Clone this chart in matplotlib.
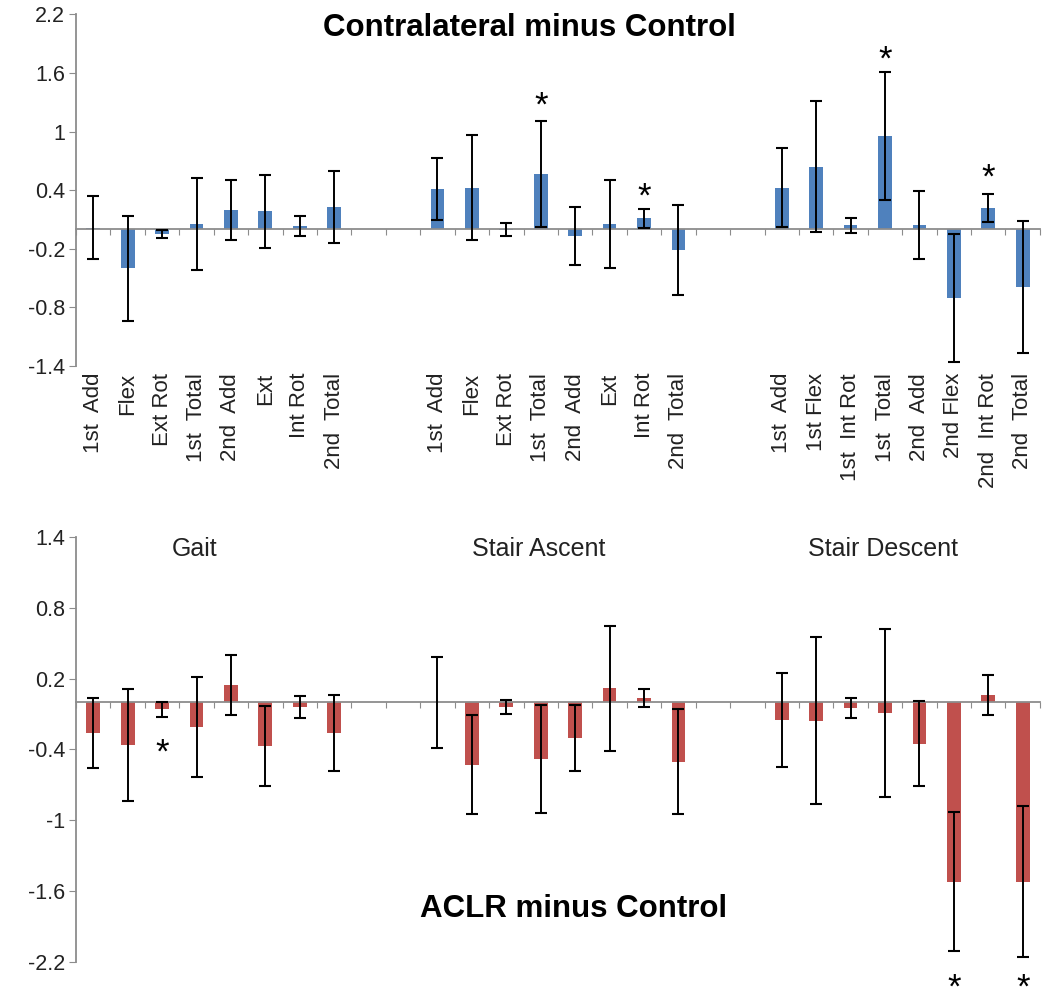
import numpy as np
import matplotlib.pyplot as plt

plt.rcParams['font.family'] = ['Liberation Sans', 'DejaVu Sans']

groups = ['Gait', 'Stair Ascent', 'Stair Descent']
labels = ['1st  Add', 'Flex', 'Ext Rot', '1st  Total', '2nd  Add', 'Ext', 'Int Rot', '2nd  Total',
          '1st  Add', 'Flex', 'Ext Rot', '1st  Total', '2nd  Add', 'Ext', 'Int Rot', '2nd  Total',
          '1st  Add', '1st Flex', '1st  Int Rot', '1st  Total', '2nd  Add', '2nd Flex', '2nd  Int Rot', '2nd  Total']

# contralateral minus control
contra_mean = [0.015, -0.40, -0.05, 0.055, 0.195, 0.185, 0.035, 0.23,
               0.41, 0.425, -0.005, 0.565, -0.07, 0.05, 0.11, -0.21,
               0.425, 0.64, 0.04, 0.955, 0.045, -0.705, 0.215, -0.595]
contra_err = [0.32, 0.54, 0.04, 0.47, 0.31, 0.375, 0.105, 0.37,
              0.32, 0.535, 0.065, 0.545, 0.30, 0.45, 0.10, 0.46,
              0.405, 0.67, 0.075, 0.655, 0.35, 0.655, 0.145, 0.675]
contra_star_idx = [11, 14, 19, 22]
contra_star_y = [1.36, 0.43, 1.83, 0.62]

# ACLR minus control
aclr_mean = [-0.26, -0.365, -0.06, -0.21, 0.145, -0.37, -0.04, -0.26,
             0.0, -0.53, -0.04, -0.48, -0.30, 0.12, 0.035, -0.505,
             -0.15, -0.155, -0.05, -0.09, -0.35, -1.52, 0.058, -1.52]
aclr_err = [0.295, 0.475, 0.065, 0.42, 0.255, 0.34, 0.095, 0.325,
            0.385, 0.42, 0.06, 0.46, 0.28, 0.53, 0.077, 0.445,
            0.40, 0.71, 0.085, 0.71, 0.36, 0.59, 0.17, 0.64]
aclr_star_idx = [2, 21, 23]
aclr_star_y = [-0.35, -2.34, -2.34]

top_ticks = [-1.4, -0.8, -0.2, 0.4, 1, 1.6, 2.2]
bot_ticks = [-2.2, -1.6, -1, -0.4, 0.2, 0.8, 1.4]

# 8 bars per group, 2 empty slots between groups
pos = np.array([g * 10 + j for g in range(3) for j in range(8)])

axis_grey = '#8c8c8c'


def diffPlot(ax, mean, err, color, ticks, star_idx, star_y):
    ax.bar(pos, mean, width=0.4, color=color, zorder=2)
    ax.errorbar(pos, mean, yerr=err, fmt='none', ecolor='black',
                elinewidth=1.4, capsize=4, capthick=1.5, zorder=3)
    for i, y in zip(star_idx, star_y):
        ax.annotate('*', xy=(pos[i], y), xytext=(0, -14), textcoords='offset points',
                    ha='center', va='baseline', fontsize=25, annotation_clip=False)
    ax.set_xlim(-0.5, 27.5)
    ax.set_ylim(ticks[0], ticks[-1])
    ax.set_yticks(ticks, labels=['%g' % t for t in ticks])
    ax.spines['top'].set_visible(False)
    ax.spines['right'].set_visible(False)
    ax.spines['bottom'].set_position(('data', 0))
    ax.spines['bottom'].set_color(axis_grey)
    ax.spines['left'].set_color(axis_grey)
    ax.spines['bottom'].set_linewidth(1.3)
    ax.spines['left'].set_linewidth(1.3)
    ax.set_xticks(np.arange(-0.5, 28, 1))
    ax.tick_params(axis='x', length=4, color=axis_grey, labelbottom=False)
    ax.tick_params(axis='y', length=5, color=axis_grey, labelsize=15.5,
                   labelcolor='#222222', pad=3)


fig = plt.figure(figsize=(10.5, 10.05), dpi=100)
ax1 = fig.add_axes([0.0724, 0.6358, 0.918, 0.350])
ax2 = fig.add_axes([0.0724, 0.0428, 0.918, 0.4229])

diffPlot(ax1, contra_mean, contra_err, '#4F81BD', top_ticks, contra_star_idx, contra_star_y)
diffPlot(ax2, aclr_mean, aclr_err, '#C0504D', bot_ticks, aclr_star_idx, aclr_star_y)

# category labels under the top panel
sec = ax1.secondary_xaxis('bottom')
sec.set_xticks(pos, labels=labels, rotation=90, fontsize=16, color='#222222')
sec.tick_params(length=0, pad=5)
sec.spines['bottom'].set_visible(False)

ax1.text(12.67, 2.06, 'Contralateral minus Control', ha='center', va='center',
         fontsize=22.5, fontweight='bold')
ax2.text(13.96, -1.75, 'ACLR minus Control', ha='center', va='center',
         fontsize=22.5, fontweight='bold')
for g, name in enumerate(groups):
    ax2.text(g * 10 + 3.5 - 0.55, 1.30, name, ha='center', va='center',
             fontsize=18, color='#222222')

plt.savefig('out.png')
